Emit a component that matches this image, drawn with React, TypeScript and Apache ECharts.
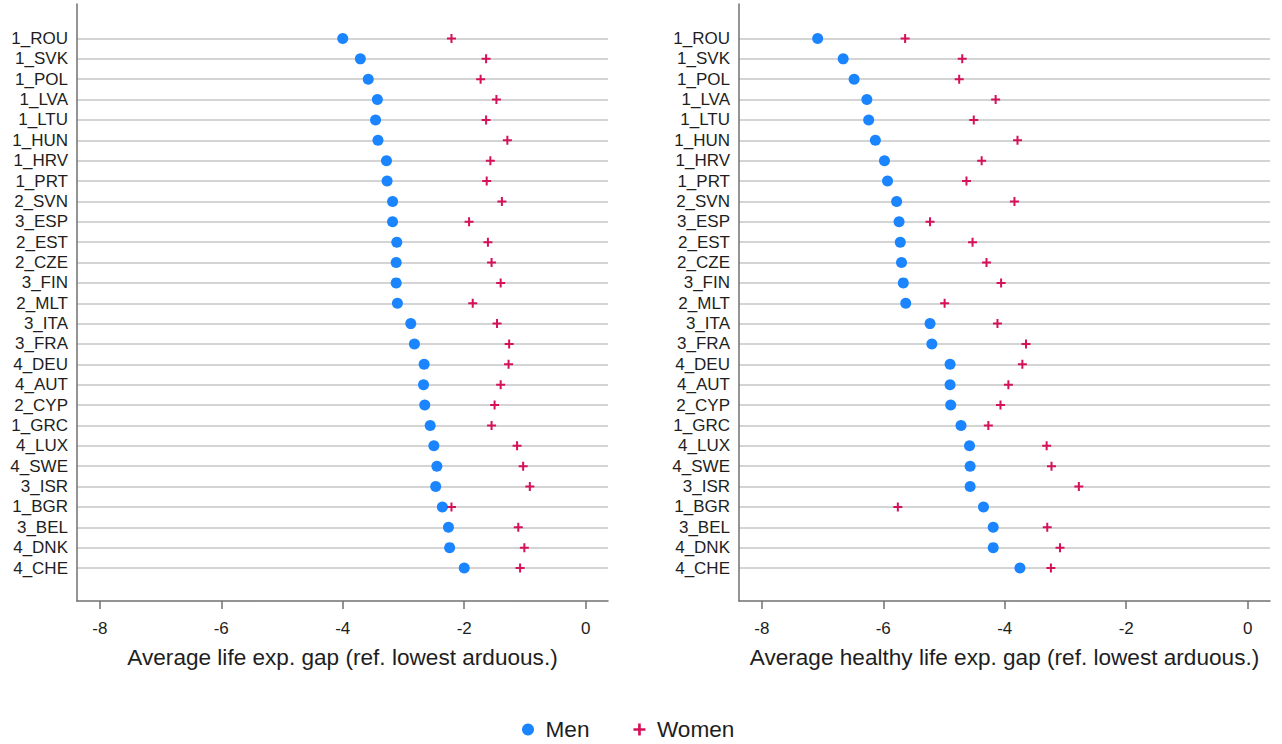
import React, { useEffect, useRef } from "react";
import * as echarts from "echarts";

const countries = [
  "1_ROU", "1_SVK", "1_POL", "1_LVA", "1_LTU", "1_HUN", "1_HRV", "1_PRT", "2_SVN",
  "3_ESP", "2_EST", "2_CZE", "3_FIN", "2_MLT", "3_ITA", "3_FRA", "4_DEU", "4_AUT",
  "2_CYP", "1_GRC", "4_LUX", "4_SWE", "3_ISR", "1_BGR", "3_BEL", "4_DNK", "4_CHE",
];

const menLife = [
  -4.0, -3.71, -3.58, -3.43, -3.46, -3.42, -3.28, -3.27, -3.18, -3.18, -3.11, -3.12, -3.12, -3.1,
  -2.88, -2.82, -2.66, -2.67, -2.65, -2.56, -2.5, -2.45, -2.47, -2.36, -2.26, -2.24, -2.0,
];
const womenLife = [
  -2.21, -1.64, -1.73, -1.47, -1.64, -1.29, -1.57, -1.63, -1.38, -1.92, -1.61, -1.55, -1.4, -1.86,
  -1.46, -1.26, -1.27, -1.4, -1.5, -1.55, -1.13, -1.03, -0.92, -2.21, -1.11, -1.01, -1.08,
];
const menHealthy = [
  -7.08, -6.66, -6.48, -6.27, -6.24, -6.13, -5.98, -5.93, -5.78, -5.74, -5.72, -5.7, -5.67, -5.63,
  -5.23, -5.2, -4.9, -4.9, -4.89, -4.72, -4.58, -4.57, -4.57, -4.35, -4.19, -4.19, -3.75,
];
const womenHealthy = [
  -5.64, -4.7, -4.75, -4.15, -4.51, -3.79, -4.38, -4.63, -3.84, -5.23, -4.53, -4.3, -4.06, -4.99,
  -4.12, -3.65, -3.71, -3.94, -4.07, -4.27, -3.31, -3.23, -2.78, -5.76, -3.3, -3.09, -3.24,
];

const xTicks = [-8, -6, -4, -2, 0];
const xTitles = [
  "Average life exp. gap (ref. lowest arduous.)",
  "Average healthy life exp. gap (ref. lowest arduous.)",
];
const seriesNames = ["Men", "Women"];

const MEN_COLOR = "#1a85ff";
const WOMEN_COLOR = "#d41159";
const PLUS = "path://M3.5,0H5.5V3.5H9V5.5H5.5V9H3.5V5.5H0V3.5H3.5Z";
const FONT = "'Liberation Sans', Arial, sans-serif";
const AXIS_COLOR = "#707070";
const GRID_COLOR = "#c6c6c6";
const TEXT_COLOR = "#1e1e1e";
const X_MIN = -8.375;
const X_MAX = 0.367;

export default function App() {
  const ref = useRef<HTMLDivElement>(null);

  useEffect(() => {
    if (!ref.current) return;
    const chart = echarts.init(ref.current, undefined, { renderer: "svg" });

    const panelLefts = [77, 739];
    const grids: any[] = [];
    const xAxes: any[] = [];
    const yAxes: any[] = [];
    panelLefts.forEach((left, p) => {
      grids.push({ left, top: 4, width: 531, height: 597 });
      grids.push({ left, top: 38.5, width: 531, height: 529.5 });
      const gf = p * 2;
      const gr = p * 2 + 1;
      xAxes.push({
        gridIndex: gf,
        type: "value",
        min: X_MIN,
        max: X_MAX,
        name: xTitles[p],
        nameLocation: "middle",
        nameGap: 45,
        nameTextStyle: { fontFamily: FONT, fontSize: 22.6, color: TEXT_COLOR },
        axisLine: { show: true, onZero: false, lineStyle: { color: AXIS_COLOR, width: 1.5 } },
        axisTick: { show: true, length: 8, customValues: xTicks, lineStyle: { color: AXIS_COLOR, width: 1.5 } },
        axisLabel: {
          show: true,
          customValues: xTicks,
          margin: 19,
          fontFamily: FONT,
          fontSize: 17,
          color: TEXT_COLOR,
        },
        splitLine: { show: false },
      });
      xAxes.push({
        gridIndex: gr,
        type: "value",
        min: X_MIN,
        max: X_MAX,
        show: false,
      });
      yAxes.push({
        gridIndex: gf,
        type: "value",
        min: 0,
        max: 1,
        axisLine: { show: true, onZero: false, lineStyle: { color: AXIS_COLOR, width: 1.5 } },
        axisTick: { show: false },
        axisLabel: { show: false },
        splitLine: { show: false },
      });
      yAxes.push({
        gridIndex: gr,
        type: "category",
        data: countries,
        inverse: true,
        boundaryGap: false,
        axisLine: { show: false },
        axisTick: { show: false },
        axisLabel: {
          interval: 0,
          margin: 9,
          fontFamily: FONT,
          fontSize: 17,
          color: TEXT_COLOR,
        },
        splitLine: { show: true, interval: 0, lineStyle: { color: GRID_COLOR, width: 1.5 } },
      });
    });

    const mk = (name: string, vals: number[], idx: number, men: boolean) => ({
      name,
      type: "scatter",
      xAxisIndex: idx,
      yAxisIndex: idx,
      symbol: men ? "circle" : PLUS,
      symbolSize: men ? 11 : 9,
      itemStyle: { color: men ? MEN_COLOR : WOMEN_COLOR, opacity: 1 },
      data: vals.map((v, i) => [v, countries[i]]),
      z: men ? 3 : 4,
    });

    chart.setOption({
      animation: false,
      textStyle: { fontFamily: FONT },
      grid: grids,
      xAxis: xAxes,
      yAxis: yAxes,
      legend: {
        left: 517,
        top: 713,
        itemWidth: 25,
        itemHeight: 12,
        itemGap: 44,
        textStyle: { fontFamily: FONT, fontSize: 22.6, color: TEXT_COLOR },
        data: [
          { name: seriesNames[0], icon: "circle", itemStyle: { color: MEN_COLOR } },
          { name: seriesNames[1], icon: PLUS, itemStyle: { color: WOMEN_COLOR } },
        ],
      },
      series: [
        mk(seriesNames[0], menLife, 1, true),
        mk(seriesNames[1], womenLife, 1, false),
        mk(seriesNames[0], menHealthy, 3, true),
        mk(seriesNames[1], womenHealthy, 3, false),
      ],
    });

    return () => chart.dispose();
  }, []);

  return (
    <div
      ref={ref}
      style={{ position: "fixed", left: 0, top: 0, width: 1282, height: 744, background: "#fff" }}
    />
  );
}
